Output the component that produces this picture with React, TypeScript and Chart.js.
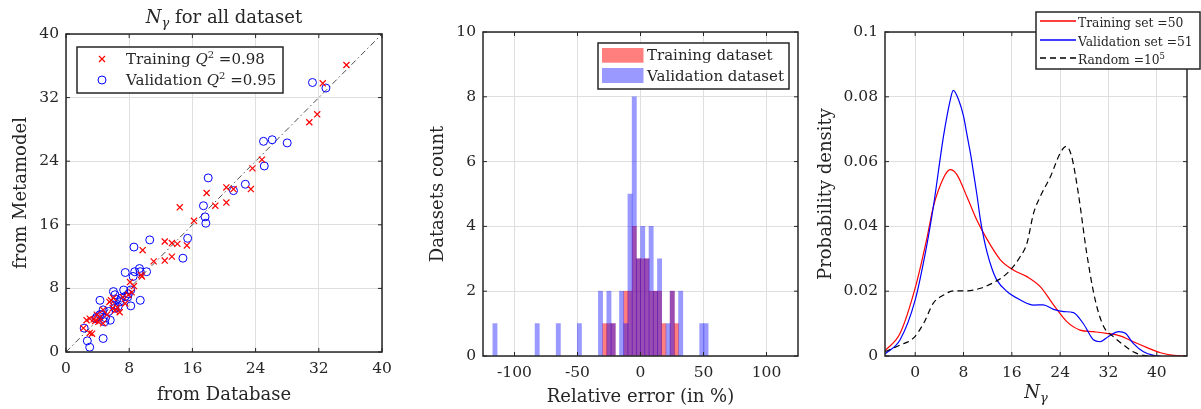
import React, { useEffect, useRef } from 'react';
import { Chart, registerables } from 'chart.js';

Chart.register(...registerables);

const FONT = '"DejaVu Serif", "Liberation Serif", serif';
const INK = '#262626';
const GRID = '#dfdfdf';

// ---------- Panel 1: N_gamma, metamodel vs database ----------
const PARITY_TICKS = [0, 8, 16, 24, 32, 40];
const DIAG = [0, 40];
const TRAIN_DB = [35.5, 32.5, 31.8, 30.8, 24.8, 23.6, 23.4, 20.3, 21.2, 20.3, 17.8, 18.9, 16.2, 14.4, 15.3, 14.1, 13.4, 12.5, 13.4, 12.5, 11.1, 9.7, 9.6, 8.1, 8.3, 7.5, 6.8, 6.5, 5.9, 5.5, 4.7, 4.3, 3.9, 3.5, 3.0, 2.6, 4.7, 3.0, 3.3, 2.2, 7.2, 7.9, 9.5, 5.2, 6.0, 4.1, 8.6, 3.7, 6.2, 5.7];
const TRAIN_META = [36.1, 33.8, 29.9, 28.9, 24.2, 23.1, 20.5, 20.7, 20.5, 18.8, 20.0, 18.4, 16.5, 18.2, 13.4, 13.6, 13.7, 13.9, 12.0, 11.5, 11.4, 12.8, 9.5, 8.8, 7.5, 6.1, 5.0, 5.6, 5.5, 6.3, 5.3, 4.4, 4.7, 4.1, 4.2, 4.0, 3.6, 2.4, 2.3, 3.0, 6.9, 7.2, 9.7, 4.7, 6.8, 3.8, 8.3, 3.9, 5.2, 6.5];
const VAL_DB = [31.2, 32.9, 25.0, 26.1, 28.0, 25.1, 22.7, 21.2, 18.0, 17.4, 17.6, 17.7, 15.4, 14.8, 10.6, 8.6, 10.2, 9.3, 9.4, 8.7, 8.5, 7.5, 8.2, 7.9, 7.3, 7.5, 9.4, 8.2, 6.0, 6.2, 6.2, 6.2, 4.3, 4.7, 4.5, 5.4, 5.6, 4.9, 4.7, 4.3, 3.9, 2.3, 2.7, 3.0, 6.6, 6.8, 7.0, 5.0, 7.8, 6.4, 3.8];
const VAL_META = [33.9, 33.2, 26.5, 26.7, 26.3, 23.4, 21.1, 20.3, 21.9, 18.4, 17.0, 16.2, 14.3, 11.8, 14.1, 13.2, 10.1, 10.5, 10.1, 10.1, 9.5, 10.0, 7.8, 7.3, 7.8, 7.0, 6.5, 5.8, 7.6, 7.2, 5.9, 5.5, 6.5, 5.3, 4.7, 5.1, 4.0, 3.8, 1.7, 4.7, 4.4, 3.0, 1.4, 0.6, 5.7, 6.3, 6.8, 4.3, 6.9, 6.6, 4.2];

// ---------- Panel 2: relative error histogram ----------
const ERR_TICKS = [-100, -50, 0, 50, 100];
const COUNT_TICKS = [0, 2, 4, 6, 8, 10];
const BIN_WIDTH = 3.35;
const TRAIN_ERR_BINS = [-28.4, -25.05, -21.7, -11.65, -8.3, -4.95, -1.6, 1.75, 5.1, 8.45, 11.8, 15.15, 18.5, 25.2, 28.55];
const TRAIN_ERR_COUNTS = [1, 1, 1, 2, 2, 4, 3, 3, 3, 2, 2, 2, 1, 2, 1];
const VAL_ERR_BINS = [-115.5, -82.0, -65.25, -48.5, -31.75, -25.05, -21.7, -15.0, -11.65, -8.3, -4.95, -1.6, 1.75, 5.1, 8.45, 11.8, 15.15, 21.85, 25.2, 31.9, 48.65, 52.0];
const VAL_ERR_COUNTS = [1, 1, 1, 1, 2, 2, 1, 2, 1, 5, 8, 3, 4, 3, 4, 2, 3, 1, 2, 2, 1, 1];

// ---------- Panel 3: probability density ----------
const N_TICKS = [0, 8, 16, 24, 32, 40];
const PDF_TICKS = [0, 0.02, 0.04, 0.06, 0.08, 0.1];
const TRAIN_PDF_X = [-5, -2.5, 0, 1.9, 3, 4.7, 5.8, 6.9, 8.6, 10.2, 11.9, 14.1, 16.3, 18.5, 20.7, 22.9, 25.1, 27.3, 29.5, 31.7, 33.9, 36.1, 38.4, 40.6, 42.8, 45];
const TRAIN_PDF_Y = [0.0016, 0.007, 0.021, 0.036, 0.046, 0.055, 0.0575, 0.056, 0.049, 0.042, 0.036, 0.0297, 0.0265, 0.0245, 0.0214, 0.0158, 0.0106, 0.008, 0.0075, 0.007, 0.0062, 0.0044, 0.0026, 0.001, 0.0002, 0];
const VAL_PDF_X = [-5, -2.5, 0, 1.9, 3, 4.7, 5.8, 6.3, 7.2, 8.0, 8.6, 9.2, 9.7, 10.2, 10.8, 11.4, 11.9, 12.7, 13.5, 15.2, 17.4, 19.6, 21.2, 22.9, 24.6, 26.2, 27.9, 29.5, 30.6, 32, 33.7, 34.8, 36.1, 37.8, 39.5, 40.6];
const VAL_PDF_Y = [0.0006, 0.005, 0.0173, 0.034, 0.046, 0.068, 0.079, 0.082, 0.079, 0.074, 0.068, 0.062, 0.056, 0.050, 0.042, 0.036, 0.032, 0.027, 0.0235, 0.0199, 0.0173, 0.0157, 0.0158, 0.0144, 0.0137, 0.0134, 0.0098, 0.005, 0.0044, 0.006, 0.0075, 0.007, 0.0039, 0.0013, 0.0002, 0];
const RAND_PDF_X = [-5, -2.5, -0.3, 1.4, 3.0, 4.7, 6.3, 8.6, 10.8, 13.0, 15.2, 17.4, 18.5, 19.6, 20.7, 22.4, 24.0, 25.0, 25.9, 27.0, 28.4, 29.8, 31.2, 32.8, 34.5, 36.1, 37.8, 39.5];
const RAND_PDF_Y = [0.0013, 0.0034, 0.0055, 0.0101, 0.0163, 0.0188, 0.0201, 0.0201, 0.0209, 0.0227, 0.0255, 0.0307, 0.0348, 0.0441, 0.0492, 0.0554, 0.0626, 0.0647, 0.0616, 0.0503, 0.0317, 0.0173, 0.0091, 0.006, 0.0034, 0.0013, 0.0002, 0];

// ---------- helpers ----------
type Part = { t: string; s: number; it?: boolean; dy?: number };

function richWidth(ctx: CanvasRenderingContext2D, parts: Part[]) {
  let w = 0;
  for (const p of parts) {
    ctx.font = `${p.it ? 'italic ' : ''}${p.s}px ${FONT}`;
    w += ctx.measureText(p.t).width;
  }
  return w;
}

function drawRich(ctx: CanvasRenderingContext2D, x: number, y: number, parts: Part[]) {
  ctx.save();
  ctx.fillStyle = INK;
  ctx.textAlign = 'left';
  ctx.textBaseline = 'alphabetic';
  let cx = x;
  for (const p of parts) {
    ctx.font = `${p.it ? 'italic ' : ''}${p.s}px ${FONT}`;
    ctx.fillText(p.t, cx, y + (p.dy || 0));
    cx += ctx.measureText(p.t).width;
  }
  ctx.restore();
}

function xAxis(min: number, max: number, ticks: number[], height: number, title: string | null, padBottom: number, fmt?: (v: any) => string) {
  return {
    type: 'linear',
    position: 'bottom',
    min,
    max,
    offset: false,
    afterBuildTicks: (s: any) => { s.ticks = ticks.map((v) => ({ value: v })); },
    afterFit: (s: any) => { s.height = height; },
    grid: { color: GRID, lineWidth: 1, drawTicks: false, offset: false },
    border: { display: false },
    ticks: { padding: 8, color: INK, font: { size: 15.5 }, maxRotation: 0, autoSkip: false, ...(fmt ? { callback: fmt } : {}) },
    title: title ? { display: true, text: title, color: INK, font: { size: 18 }, padding: { top: 0, bottom: padBottom } } : { display: false },
  };
}

function yAxis(min: number, max: number, ticks: number[], width: number, title: string, padTop: number, fmt?: (v: any) => string) {
  return {
    type: 'linear',
    position: 'left',
    min,
    max,
    afterBuildTicks: (s: any) => { s.ticks = ticks.map((v) => ({ value: v })); },
    afterFit: (s: any) => { s.width = width; },
    grid: { color: GRID, lineWidth: 1, drawTicks: false },
    border: { display: false },
    ticks: { padding: 7, color: INK, font: { size: 15.5 }, autoSkip: false, ...(fmt ? { callback: fmt } : {}) },
    title: { display: true, text: title, color: INK, font: { size: 18 }, padding: { top: padTop, bottom: 0 } },
  };
}

function framePlugin(extra?: (chart: any) => void) {
  return {
    id: 'matlabFrame',
    afterDraw(chart: any) {
      const { ctx, chartArea: a, scales } = chart;
      const xs = scales.x;
      const ys = scales.y;
      ctx.save();
      ctx.strokeStyle = INK;
      ctx.lineWidth = 1;
      ctx.beginPath();
      for (const t of xs.ticks) {
        const px = xs.getPixelForValue(t.value);
        ctx.moveTo(px, a.bottom);
        ctx.lineTo(px, a.bottom - 4);
        ctx.moveTo(px, a.top);
        ctx.lineTo(px, a.top + 4);
      }
      for (const t of ys.ticks) {
        const py = ys.getPixelForValue(t.value);
        ctx.moveTo(a.left, py);
        ctx.lineTo(a.left + 4, py);
        ctx.moveTo(a.right, py);
        ctx.lineTo(a.right - 4, py);
      }
      ctx.stroke();
      ctx.lineWidth = 1.5;
      ctx.strokeRect(a.left, a.top, a.right - a.left, a.bottom - a.top);
      ctx.restore();
      if (extra) extra(chart);
    },
  };
}

function legendBox(ctx: CanvasRenderingContext2D, x: number, y: number, w: number, h: number) {
  ctx.save();
  ctx.fillStyle = '#ffffff';
  ctx.fillRect(x, y, w, h);
  ctx.strokeStyle = INK;
  ctx.lineWidth = 1.5;
  ctx.strokeRect(x, y, w, h);
  ctx.restore();
}

const baseOptions = {
  responsive: false,
  animation: false,
  devicePixelRatio: 1,
  events: [],
  plugins: { legend: { display: false }, tooltip: { enabled: false }, title: { display: false } },
};

// ---------- panel 1 ----------
function parityExtras(chart: any) {
  const { ctx, chartArea: a } = chart;
  const title: Part[] = [
    { t: 'N', s: 18, it: true },
    { t: 'γ', s: 13, it: true, dy: 4 },
    { t: ' for all dataset', s: 18 },
  ];
  const tw = richWidth(ctx, title);
  drawRich(ctx, (a.left + a.right) / 2 - tw / 2, a.top - 11, title);

  const bx = a.left + 11;
  const by = a.top + 13;
  legendBox(ctx, bx, by, 206, 46);
  ctx.save();
  ctx.lineWidth = 1.2;
  ctx.strokeStyle = 'rgb(255,0,0)';
  const mx = bx + 25;
  const m1 = by + 12;
  const d = 3;
  ctx.beginPath();
  ctx.moveTo(mx - d, m1 - d); ctx.lineTo(mx + d, m1 + d);
  ctx.moveTo(mx - d, m1 + d); ctx.lineTo(mx + d, m1 - d);
  ctx.stroke();
  ctx.lineWidth = 1;
  ctx.strokeStyle = 'rgb(0,0,255)';
  ctx.beginPath();
  ctx.arc(mx, by + 33, 4, 0, Math.PI * 2);
  ctx.stroke();
  ctx.restore();
  drawRich(ctx, bx + 49, by + 17, [
    { t: 'Training ', s: 15 }, { t: 'Q', s: 15, it: true }, { t: '2', s: 10, dy: -6 }, { t: ' =0.98', s: 15 },
  ]);
  drawRich(ctx, bx + 49, by + 38, [
    { t: 'Validation ', s: 15 }, { t: 'Q', s: 15, it: true }, { t: '2', s: 10, dy: -6 }, { t: ' =0.95', s: 15 },
  ]);
}

function parityConfig(): any {
  return {
    type: 'scatter',
    data: {
      datasets: [
        {
          type: 'line',
          data: DIAG.map((v) => ({ x: v, y: v })),
          borderColor: '#3a3a3a',
          borderWidth: 0.9,
          borderDash: [6, 3, 1.5, 3],
          pointRadius: 0,
          fill: false,
          order: 3,
        },
        {
          data: TRAIN_DB.map((x, i) => ({ x, y: TRAIN_META[i] })),
          pointStyle: 'crossRot',
          pointRadius: 4.3,
          borderColor: 'rgb(255,0,0)',
          backgroundColor: 'rgba(0,0,0,0)',
          borderWidth: 1.2,
          order: 1,
        },
        {
          data: VAL_DB.map((x, i) => ({ x, y: VAL_META[i] })),
          pointStyle: 'circle',
          pointRadius: 4,
          borderColor: 'rgb(0,0,255)',
          backgroundColor: 'rgba(0,0,0,0)',
          borderWidth: 1,
          order: 2,
        },
      ],
    },
    options: {
      ...baseOptions,
      layout: { padding: { left: 0, right: 18, top: 34, bottom: 0 } },
      scales: {
        x: xAxis(0, 40, PARITY_TICKS, 57, 'from Database', 3),
        y: yAxis(0, 40, PARITY_TICKS, 66, 'from Metamodel', 11),
      },
    },
    plugins: [framePlugin(parityExtras)],
  };
}

// ---------- panel 2 ----------
function histExtras(chart: any) {
  const { ctx, chartArea: a } = chart;
  const bx = a.right - 200;
  const by = a.top + 11;
  legendBox(ctx, bx, by, 191, 46);
  ctx.save();
  ctx.fillStyle = 'rgba(255,0,0,0.5)';
  ctx.fillRect(bx + 4, by + 5, 41.5, 14.7);
  ctx.fillStyle = 'rgba(0,0,255,0.4)';
  ctx.fillRect(bx + 4, by + 25, 41.5, 15);
  ctx.restore();
  drawRich(ctx, bx + 49, by + 17, [{ t: 'Training dataset', s: 15 }]);
  drawRich(ctx, bx + 49, by + 38, [{ t: 'Validation dataset', s: 15 }]);
}

function histConfig(): any {
  const plotWidth = 315;
  const thickness = (BIN_WIDTH * plotWidth) / 250;
  return {
    type: 'bar',
    data: {
      datasets: [
        {
          data: TRAIN_ERR_BINS.map((x, i) => ({ x, y: TRAIN_ERR_COUNTS[i] })),
          backgroundColor: 'rgba(255,0,0,0.5)',
          borderWidth: 0,
          barThickness: thickness,
          grouped: false,
          order: 1,
        },
        {
          data: VAL_ERR_BINS.map((x, i) => ({ x, y: VAL_ERR_COUNTS[i] })),
          backgroundColor: 'rgba(0,0,255,0.4)',
          borderWidth: 0,
          barThickness: thickness,
          grouped: false,
          order: 0,
        },
      ],
    },
    options: {
      ...baseOptions,
      layout: { padding: { left: 0, right: 2, top: 32, bottom: 0 } },
      scales: {
        x: xAxis(-125, 125, ERR_TICKS, 53, 'Relative error (in %)', 1),
        y: yAxis(0, 10, COUNT_TICKS, 83, 'Datasets count', 28),
      },
    },
    plugins: [framePlugin(histExtras)],
  };
}

// ---------- panel 3 ----------
function pdfExtras(chart: any) {
  const { ctx, chartArea: a } = chart;
  const lbl: Part[] = [{ t: 'N', s: 18, it: true }, { t: 'γ', s: 13, it: true, dy: 4 }];
  const w = richWidth(ctx, lbl);
  drawRich(ctx, (a.left + a.right) / 2 - w / 2, 398, lbl);

  const bx = a.left + 151;
  const by = a.top - 20;
  legendBox(ctx, bx, by, 164, 57);
  const rows = [
    { color: 'rgb(255,0,0)', dash: [] as number[], parts: [{ t: 'Training set =50', s: 12.3 }] as Part[] },
    { color: 'rgb(0,0,255)', dash: [] as number[], parts: [{ t: 'Validation set =51', s: 12.3 }] as Part[] },
    { color: '#000000', dash: [6, 4], parts: [{ t: 'Random =10', s: 12.3 }, { t: '5', s: 8.5, dy: -5 }] as Part[] },
  ];
  const lineY = [9, 28, 46];
  const baseY = [15, 34, 52];
  rows.forEach((r, i) => {
    ctx.save();
    ctx.strokeStyle = r.color;
    ctx.lineWidth = 1.3;
    ctx.setLineDash(r.dash);
    ctx.beginPath();
    ctx.moveTo(bx + 4, by + lineY[i]);
    ctx.lineTo(bx + 40, by + lineY[i]);
    ctx.stroke();
    ctx.restore();
    drawRich(ctx, bx + 42, by + baseY[i], r.parts);
  });
}

function pdfConfig(): any {
  const line = (xs: number[], ys: number[], color: string, dash: number[], order: number) => ({
    data: xs.map((x, i) => ({ x, y: ys[i] })),
    borderColor: color,
    borderWidth: 1.2,
    borderDash: dash,
    pointRadius: 0,
    fill: false,
    cubicInterpolationMode: 'monotone',
    order,
  });
  return {
    type: 'line',
    data: {
      datasets: [
        line(TRAIN_PDF_X, TRAIN_PDF_Y, 'rgb(255,0,0)', [], 2),
        line(VAL_PDF_X, VAL_PDF_Y, 'rgb(0,0,255)', [], 1),
        line(RAND_PDF_X, RAND_PDF_Y, '#000000', [6, 4], 0),
      ],
    },
    options: {
      ...baseOptions,
      layout: { padding: { left: 0, right: 14, top: 32, bottom: 0 } },
      scales: {
        x: xAxis(-5, 45, N_TICKS, 53, null, 0),
        y: yAxis(0, 0.1, PDF_TICKS, 85, 'Probability density', 16, (v: any) => String(Number(Number(v).toFixed(3)))),
      },
    },
    plugins: [framePlugin(pdfExtras)],
  };
}

export default function App() {
  const r1 = useRef<HTMLCanvasElement>(null);
  const r2 = useRef<HTMLCanvasElement>(null);
  const r3 = useRef<HTMLCanvasElement>(null);

  useEffect(() => {
    Chart.defaults.font.family = FONT;
    Chart.defaults.color = INK;
    const charts = [
      new Chart(r1.current as HTMLCanvasElement, parityConfig()),
      new Chart(r2.current as HTMLCanvasElement, histConfig()),
      new Chart(r3.current as HTMLCanvasElement, pdfConfig()),
    ];
    return () => charts.forEach((c) => c.destroy());
  }, []);

  const cs = (left: number, width: number): React.CSSProperties => ({
    position: 'absolute', left, top: 0, width, height: 409, display: 'block',
  });

  return (
    <div style={{ position: 'fixed', left: 0, top: 0, width: 1201, height: 409, background: '#ffffff', overflow: 'hidden' }}>
      <canvas ref={r1} width={400} height={409} style={cs(0, 400)} />
      <canvas ref={r2} width={400} height={409} style={cs(400, 400)} />
      <canvas ref={r3} width={401} height={409} style={cs(800, 401)} />
    </div>
  );
}
